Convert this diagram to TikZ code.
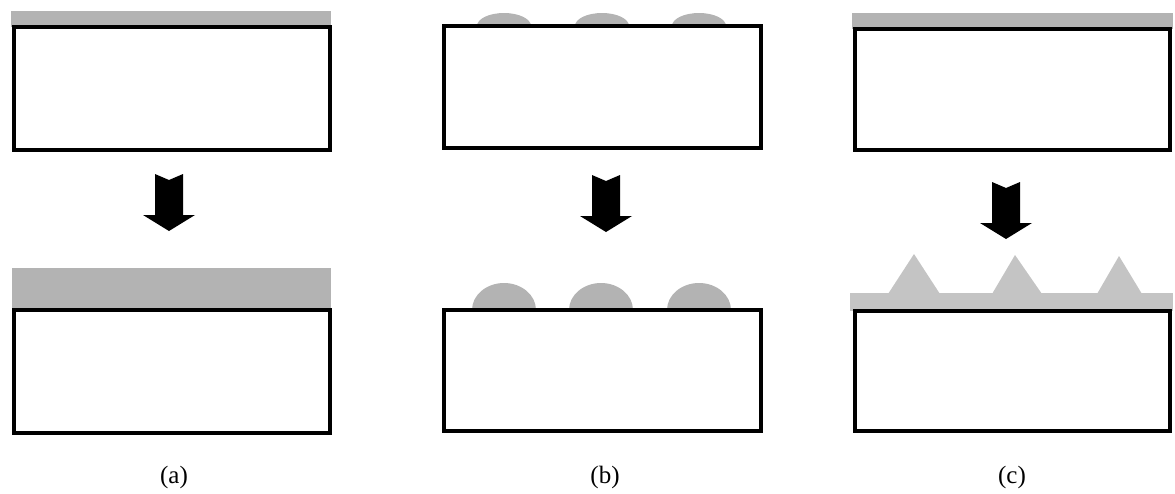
\documentclass[tikz,border=0pt]{standalone}
\usepackage{fontspec}
\setmainfont{Liberation Serif}
\definecolor{filmgray}{HTML}{B3B3B3}
\definecolor{lightfilm}{HTML}{C4C4C4}
\tikzset{
  substrate/.style={draw=black, line width=3.5pt, fill=white},
  film/.style={fill=filmgray, draw=none},
  lightlayer/.style={fill=lightfilm, draw=none},
  blockarrow/.style={fill=black, draw=none},
  caption/.style={font=\fontsize{25}{28}\selectfont, inner sep=0pt}
}
% half-ellipse island: centre x, base y, half width, height
\newcommand\islandat[4]{%
  \fill[film] (#1-#3,#2) .. controls (#1-#3,#2-0.552*#4) and (#1-0.552*#3,#2-#4) .. (#1,#2-#4)
    .. controls (#1+0.552*#3,#2-#4) and (#1+#3,#2-0.552*#4) .. (#1+#3,#2) -- cycle;}
% notched block arrow pointing down, given centre x and top y
\newcommand\downblock[2]{%
  \begin{scope}[shift={(#1,#2)}]
    \fill[blockarrow] (-14,0) -- (0,6) -- (14,0) -- (14,41) -- (26,41) -- (0,57)
      -- (-26,41) -- (-14,41) -- cycle;
  \end{scope}}
\begin{document}
\begin{tikzpicture}[x=1pt,y=-1pt]
\useasboundingbox (0,0) rectangle (1175,493);

% ---------- (a) continuous film ----------
\fill[film] (11,11) rectangle (331,27);
\draw[substrate] (14,27) rectangle (330,150);
\downblock{169}{174}
\fill[film] (12,268) rectangle (331,310);
\draw[substrate] (14,310) rectangle (330,433);
\node[caption] (capa) at (174,477) {(a)};

% ---------- (b) islands ----------
\islandat{504}{26}{27}{13}
\islandat{602}{26}{27}{13}
\islandat{699}{26}{27}{13}
\draw[substrate] (444,26) rectangle (761,148);
\downblock{606}{175}
\islandat{504}{310}{32}{27}
\islandat{601}{310}{32}{27}
\islandat{699}{310}{32}{27}
\draw[substrate] (444,310) rectangle (761,431);
\node[caption] (capb) at (605,477) {(b)};

% ---------- (c) layer plus islands ----------
\fill[film] (852,13) rectangle (1173,29);
\draw[substrate] (855,29) rectangle (1170,150);
\downblock{1006}{182}
\fill[lightlayer] (850,293) rectangle (1173,311);
\fill[lightlayer] (888,294) -- (914,254) -- (940,294) -- cycle;
\fill[lightlayer] (992,294) -- (1015,255) -- (1042,294) -- cycle;
\fill[lightlayer] (1097,294) -- (1119,256) -- (1142,294) -- cycle;
\draw[substrate] (855,311) rectangle (1170,431);
\node[caption] (capc) at (1012,477) {(c)};
\end{tikzpicture}
\end{document}
